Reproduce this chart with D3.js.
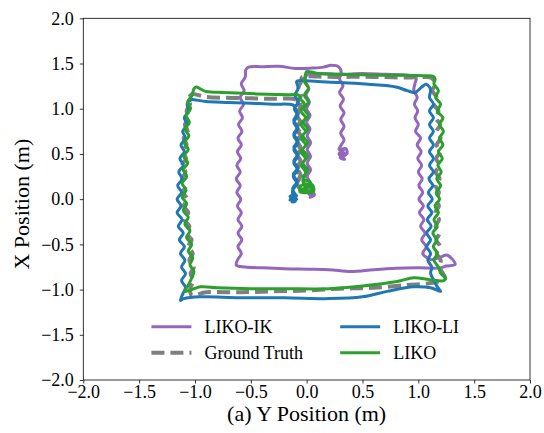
<!DOCTYPE html>
<html><head><meta charset="utf-8">
<script src="https://cdn.jsdelivr.net/npm/d3@7"></script>
<style>body{margin:0;background:#fff}svg{display:block}text{font-family:"Liberation Serif","Times New Roman",serif;fill:#000}</style>
</head><body><div id="chart"></div>
<script>
// ---- Data ----
const seriesNames = ["LIKO-IK", "Ground Truth", "LIKO-LI", "LIKO"];
const xTicks = [-2.0, -1.5, -1.0, -0.5, 0.0, 0.5, 1.0, 1.5, 2.0];
const yTicks = [-2.0, -1.5, -1.0, -0.5, 0.0, 0.5, 1.0, 1.5, 2.0];
const xLabel = "(a) Y Position (m)";
const yLabel = "X Position (m)";

const ikData = [
 [0.05,0.03],[0.02,0.06],[0.06,0.08],[0.03,0.02],[0.07,0.05],[0.04,0.10],
 [0.035,0.175],[0.005,0.25],[0.035,0.325],[0.005,0.40],[0.035,0.475],[0.005,0.55],[0.035,0.625],[0.005,0.70],[0.03,0.775],[0.0,0.85],[0.03,0.925],[0.0,1.0],[0.025,1.075],[-0.005,1.15],[0.02,1.225],[-0.01,1.30],[0.0,1.37],
 [0.1,1.39],[0.3,1.38],[0.5,1.39],[0.7,1.38],[0.9,1.37],[0.98,1.34],[0.97,1.28],
 [0.96,1.2],[0.99,1.125],[0.965,1.05],[0.995,0.975],[0.97,0.9],[1.0,0.825],[0.975,0.75],[1.02,0.675],[0.99,0.6],[1.025,0.525],[0.995,0.45],[1.03,0.375],[1.0,0.3],[1.035,0.225],[1.005,0.15],[1.04,0.075],[1.005,0.0],[1.045,-0.075],[1.01,-0.15],[1.05,-0.225],[1.02,-0.3],[1.06,-0.375],[1.03,-0.45],[1.07,-0.525],[1.04,-0.6],
 [1.08,-0.65],[1.12,-0.67],[1.2,-0.64],[1.26,-0.62],[1.33,-0.72],[1.25,-0.74],[1.19,-0.76],
 [1.0,-0.76],[0.8,-0.765],[0.6,-0.78],[0.4,-0.8],[0.2,-0.78],[0.0,-0.775],[-0.2,-0.77],[-0.4,-0.76],[-0.55,-0.75],[-0.63,-0.73],
 [-0.62,-0.675],[-0.585,-0.6],[-0.615,-0.525],[-0.58,-0.45],[-0.615,-0.375],[-0.58,-0.3],[-0.615,-0.225],[-0.585,-0.15],[-0.62,-0.075],[-0.59,0],[-0.625,0.075],[-0.595,0.15],[-0.63,0.225],[-0.595,0.3],[-0.625,0.375],[-0.59,0.45],[-0.62,0.525],[-0.585,0.6],[-0.615,0.675],[-0.58,0.75],[-0.61,0.825],[-0.575,0.9],[-0.6,0.975],[-0.565,1.05],[-0.595,1.125],[-0.56,1.2],[-0.585,1.275],[-0.55,1.35],[-0.545,1.43],[-0.52,1.46],
 [-0.4,1.465],[-0.25,1.47],[-0.1,1.445],[0.05,1.45],[0.15,1.46],[0.22,1.48],[0.29,1.46],[0.31,1.4],
 [0.295,1.33],[0.325,1.255],[0.295,1.18],[0.33,1.105],[0.3,1.03],[0.335,0.955],[0.305,0.88],[0.335,0.805],[0.305,0.73],[0.335,0.655],[0.31,0.6],
 [0.29,0.55],[0.35,0.56],[0.36,0.5],[0.3,0.46],[0.34,0.44],[0.29,0.5],[0.33,0.54],[0.31,0.47],[0.35,0.49],[0.32,0.52]
];

const gtData = [
 [-0.05,0.1],
 [-0.085,0.175],[-0.055,0.25],[-0.085,0.325],[-0.055,0.4],[-0.085,0.475],[-0.055,0.55],[-0.085,0.625],[-0.055,0.7],[-0.085,0.775],[-0.055,0.85],[-0.085,0.925],[-0.055,1.0],[-0.08,1.075],[-0.05,1.15],[-0.075,1.225],[-0.05,1.3],[-0.04,1.35],
 [0.1,1.355],[0.3,1.35],[0.5,1.355],[0.7,1.35],[0.9,1.345],[1.05,1.35],[1.12,1.34],
 [1.15,1.275],[1.125,1.2],[1.165,1.125],[1.14,1.05],[1.18,0.975],[1.155,0.9],[1.195,0.825],[1.165,0.75],[1.2,0.675],[1.165,0.6],[1.195,0.525],[1.16,0.45],[1.19,0.375],[1.155,0.3],[1.19,0.225],[1.155,0.15],[1.185,0.075],[1.15,0.0],[1.185,-0.075],[1.15,-0.15],[1.185,-0.225],[1.155,-0.3],[1.19,-0.375],[1.16,-0.45],[1.195,-0.525],[1.165,-0.6],[1.2,-0.675],[1.19,-0.75],[1.22,-0.82],[1.24,-0.88],
 [1.1,-0.93],[0.9,-0.95],[0.6,-0.98],[0.3,-0.99],[0.0,-1.01],[-0.3,-1.02],[-0.6,-1.03],[-0.9,-1.03],[-1.03,-1.06],
 [-1.04,-0.975],[-1.01,-0.9],[-1.04,-0.825],[-1.01,-0.75],[-1.05,-0.675],[-1.02,-0.6],[-1.06,-0.525],[-1.03,-0.45],[-1.08,-0.375],[-1.05,-0.3],[-1.095,-0.225],[-1.06,-0.15],[-1.1,-0.075],[-1.07,0],[-1.11,0.075],[-1.08,0.15],[-1.115,0.225],[-1.085,0.3],[-1.115,0.375],[-1.08,0.45],[-1.11,0.525],[-1.075,0.6],[-1.1,0.675],[-1.065,0.75],[-1.09,0.825],[-1.055,0.9],[-1.075,0.975],[-1.045,1.05],[-1.05,1.125],[-1.03,1.16],
 [-0.9,1.13],[-0.7,1.12],[-0.5,1.115],[-0.3,1.11],[-0.12,1.11],[-0.07,1.09],
 [-0.055,1.02],[-0.085,0.945],[-0.055,0.87],[-0.085,0.795],[-0.055,0.72],[-0.085,0.645],[-0.055,0.57],[-0.085,0.495],[-0.055,0.42],[-0.085,0.345],[-0.055,0.27],[-0.08,0.195],[-0.06,0.12]
];

const liData = [
 [-0.12,0.0],[-0.15,0.03],[-0.09,0.04],[-0.13,-0.03],[-0.1,-0.02],[-0.14,0.02],[-0.11,0.06],[-0.15,-0.01],[-0.09,0.0],[-0.12,0.04],
 [-0.125,0.1],[-0.085,0.175],[-0.12,0.25],[-0.08,0.325],[-0.115,0.4],[-0.08,0.475],[-0.115,0.55],[-0.08,0.625],[-0.115,0.7],[-0.08,0.775],[-0.115,0.85],[-0.08,0.925],[-0.11,1.0],[-0.075,1.075],[-0.105,1.15],[-0.075,1.225],[-0.09,1.3],[-0.07,1.31],
 [0.1,1.3],[0.3,1.29],[0.55,1.27],[0.8,1.24],[0.9,1.2],[0.97,1.18],[1.03,1.24],[1.07,1.27],[1.1,1.24],[1.11,1.2],
 [1.1,1.125],[1.135,1.05],[1.1,0.975],[1.135,0.9],[1.1,0.825],[1.135,0.75],[1.1,0.675],[1.135,0.6],[1.1,0.525],[1.135,0.45],[1.1,0.375],[1.135,0.3],[1.095,0.225],[1.13,0.15],[1.09,0.075],[1.125,0.0],[1.085,-0.075],[1.12,-0.15],[1.08,-0.225],[1.115,-0.3],[1.075,-0.375],[1.11,-0.45],[1.075,-0.525],[1.11,-0.6],[1.085,-0.675],[1.12,-0.75],[1.11,-0.82],[1.14,-0.9],[1.17,-0.97],[1.2,-1.02],
 [1.11,-0.98],[0.96,-0.97],[0.72,-1.02],[0.5,-1.08],[0.2,-1.1],[-0.2,-1.09],[-0.6,-1.09],[-0.95,-1.08],[-1.1,-1.1],[-1.13,-1.12],
 [-1.11,-1.05],[-1.085,-0.975],[-1.12,-0.9],[-1.085,-0.825],[-1.12,-0.75],[-1.09,-0.675],[-1.13,-0.6],[-1.095,-0.525],[-1.14,-0.45],[-1.105,-0.375],[-1.15,-0.3],[-1.115,-0.225],[-1.16,-0.15],[-1.125,-0.075],[-1.16,0.0],[-1.12,0.075],[-1.155,0.15],[-1.115,0.225],[-1.145,0.3],[-1.105,0.375],[-1.135,0.45],[-1.095,0.525],[-1.125,0.6],[-1.085,0.675],[-1.11,0.75],[-1.07,0.825],[-1.095,0.9],[-1.055,0.975],[-1.07,1.05],[-1.03,1.1],[-1.01,1.1],
 [-0.9,1.08],[-0.7,1.07],[-0.5,1.06],[-0.3,1.05],[-0.12,1.04],[-0.1,1.0],
 [-0.085,0.945],[-0.115,0.87],[-0.08,0.795],[-0.115,0.72],[-0.08,0.645],[-0.115,0.57],[-0.08,0.495],[-0.115,0.42],[-0.08,0.345],[-0.12,0.27],[-0.085,0.195],[-0.125,0.12],[-0.1,0.05]
];

const likoData = [
 [-0.06,0.08],[0.06,0.08],[0.05,0.16],[-0.05,0.15],[-0.06,0.09],[0.05,0.11],[0.02,0.2],[-0.03,0.2],[0.0,0.12],[-0.04,0.11],[0.04,0.14],[-0.02,0.17],[0.01,0.09],[-0.03,0.18],
 [-0.03,0.25],[0.01,0.325],[-0.035,0.4],[0.01,0.475],[-0.035,0.55],[0.01,0.625],[-0.035,0.7],[0.01,0.775],[-0.03,0.85],[0.015,0.925],[-0.025,1.0],[0.015,1.075],[-0.02,1.15],[0.015,1.225],[-0.02,1.3],[-0.01,1.38],[0.0,1.41],
 [0.1,1.39],[0.3,1.38],[0.5,1.375],[0.7,1.37],[0.9,1.37],[1.05,1.365],[1.13,1.36],[1.15,1.33],
 [1.14,1.275],[1.18,1.2],[1.155,1.125],[1.2,1.05],[1.17,0.975],[1.22,0.9],[1.19,0.825],[1.225,0.75],[1.19,0.675],[1.22,0.6],[1.18,0.525],[1.215,0.45],[1.175,0.375],[1.205,0.3],[1.165,0.225],[1.2,0.15],[1.16,0.075],[1.19,0.0],[1.15,-0.075],[1.18,-0.15],[1.14,-0.225],[1.17,-0.3],[1.13,-0.375],[1.165,-0.45],[1.135,-0.525],[1.17,-0.6],[1.14,-0.675],[1.18,-0.75],[1.2,-0.82],[1.24,-0.87],[1.23,-0.9],
 [1.1,-0.89],[0.96,-0.87],[0.81,-0.91],[0.5,-0.96],[0.2,-0.99],[-0.2,-0.99],[-0.5,-0.99],[-0.8,-0.98],[-0.95,-0.97],[-1.09,-1.02],
 [-1.06,-0.95],[-1.03,-0.875],[-1.01,-0.8],[-1.045,-0.725],[-1.02,-0.65],[-1.06,-0.575],[-1.03,-0.5],[-1.075,-0.425],[-1.045,-0.35],[-1.09,-0.275],[-1.06,-0.2],[-1.105,-0.125],[-1.075,-0.05],[-1.115,0.025],[-1.08,0.1],[-1.115,0.175],[-1.075,0.25],[-1.105,0.325],[-1.065,0.4],[-1.1,0.475],[-1.06,0.55],[-1.095,0.625],[-1.055,0.7],[-1.09,0.775],[-1.05,0.85],[-1.08,0.925],[-1.04,1.0],[-1.065,1.075],[-1.025,1.15],[-1.01,1.22],[-0.99,1.24],
 [-0.9,1.19],[-0.75,1.18],[-0.57,1.17],[-0.35,1.16],[-0.15,1.155],[-0.07,1.15],[-0.05,1.1],
 [-0.02,1.05],[-0.05,0.975],[-0.01,0.9],[-0.05,0.825],[-0.01,0.75],[-0.05,0.675],[-0.01,0.6],[-0.05,0.525],[-0.01,0.45],[-0.045,0.375],[-0.01,0.3],[-0.03,0.22]
];

// ---- Drawing ----
const W = 544, H = 433;
const margin = {left: 83.3, right: 14, top: 18.3, bottom: 53};
const svg = d3.select("#chart").append("svg").attr("width", W).attr("height", H);
const x = d3.scaleLinear().domain([-2, 2]).range([margin.left, W - margin.right]);
const y = d3.scaleLinear().domain([-2, 2]).range([H - margin.bottom, margin.top]);

const colors = {"LIKO-IK": "#9467bd", "Ground Truth": "#7f7f7f", "LIKO-LI": "#1f77b4", "LIKO": "#2ca02c"};
const dataByName = {"LIKO-IK": ikData, "Ground Truth": gtData, "LIKO-LI": liData, "LIKO": likoData};
const LW = 3, GW = 4, DASH = "13,6";

svg.append("defs").append("clipPath").attr("id", "clip")
  .append("rect").attr("x", x(-2)).attr("y", y(2)).attr("width", x(2) - x(-2)).attr("height", y(-2) - y(2));

const line = d3.line().x(d => x(d[0])).y(d => y(d[1])).curve(d3.curveCatmullRom.alpha(0.5));
const g = svg.append("g").attr("clip-path", "url(#clip)");
seriesNames.forEach(name => {
  const p = g.append("path").datum(dataByName[name])
    .attr("d", line).attr("fill", "none")
    .attr("stroke", colors[name])
    .attr("stroke-linejoin", "round").attr("stroke-linecap", name === "Ground Truth" ? "butt" : "round");
  if (name === "Ground Truth") p.attr("stroke-width", GW).attr("stroke-dasharray", DASH);
  else p.attr("stroke-width", LW);
});

// axes
const fmt = d3.format(".1f");
const xAxis = svg.append("g").attr("transform", `translate(0,${y(-2)})`)
  .call(d3.axisBottom(x).tickValues(xTicks).tickFormat(fmt).tickSize(3.5).tickPadding(2));
const yAxis = svg.append("g").attr("transform", `translate(${x(-2)},0)`)
  .call(d3.axisLeft(y).tickValues(yTicks).tickFormat(fmt).tickSize(3.5).tickPadding(6));
[xAxis, yAxis].forEach(a => {
  a.attr("font-family", "Liberation Serif");
  a.select(".domain").remove();
  a.selectAll("line").attr("stroke", "#000").attr("stroke-width", 0.8);
  a.selectAll("text").style("font-family", '"Liberation Serif", serif').style("font-size", "18px").attr("fill", "#000");
});
// frame
svg.append("rect").attr("x", x(-2)).attr("y", y(2)).attr("width", x(2) - x(-2)).attr("height", y(-2) - y(2))
  .attr("fill", "none").attr("stroke", "#000").attr("stroke-width", 0.8);

svg.append("text").attr("x", (x(-2) + x(2)) / 2).attr("y", 421).attr("text-anchor", "middle")
  .style("font-size", "22px").text(xLabel);
svg.append("text").attr("transform", `translate(29,${(y(-2) + y(2)) / 2 + 5}) rotate(-90)`).attr("text-anchor", "middle")
  .style("font-size", "22px").text(yLabel);

// legend (two columns, column-major like matplotlib)
const legendItems = [
  {name: "LIKO-IK", lx: x(-1.39), ly: y(-1.41)},
  {name: "Ground Truth", lx: x(-1.39), ly: y(-1.70)},
  {name: "LIKO-LI", lx: x(0.3), ly: y(-1.41)},
  {name: "LIKO", lx: x(0.3), ly: y(-1.70)}
];
const lg = svg.append("g");
legendItems.forEach(it => {
  const l = lg.append("line").attr("x1", it.lx).attr("x2", it.lx + 40).attr("y1", it.ly).attr("y2", it.ly)
    .attr("stroke", colors[it.name]);
  if (it.name === "Ground Truth") l.attr("stroke-width", GW).attr("stroke-dasharray", DASH);
  else l.attr("stroke-width", LW);
  lg.append("text").attr("x", it.lx + 53).attr("y", it.ly + 6).style("font-size", "18px").text(it.name);
});
</script></body></html>
